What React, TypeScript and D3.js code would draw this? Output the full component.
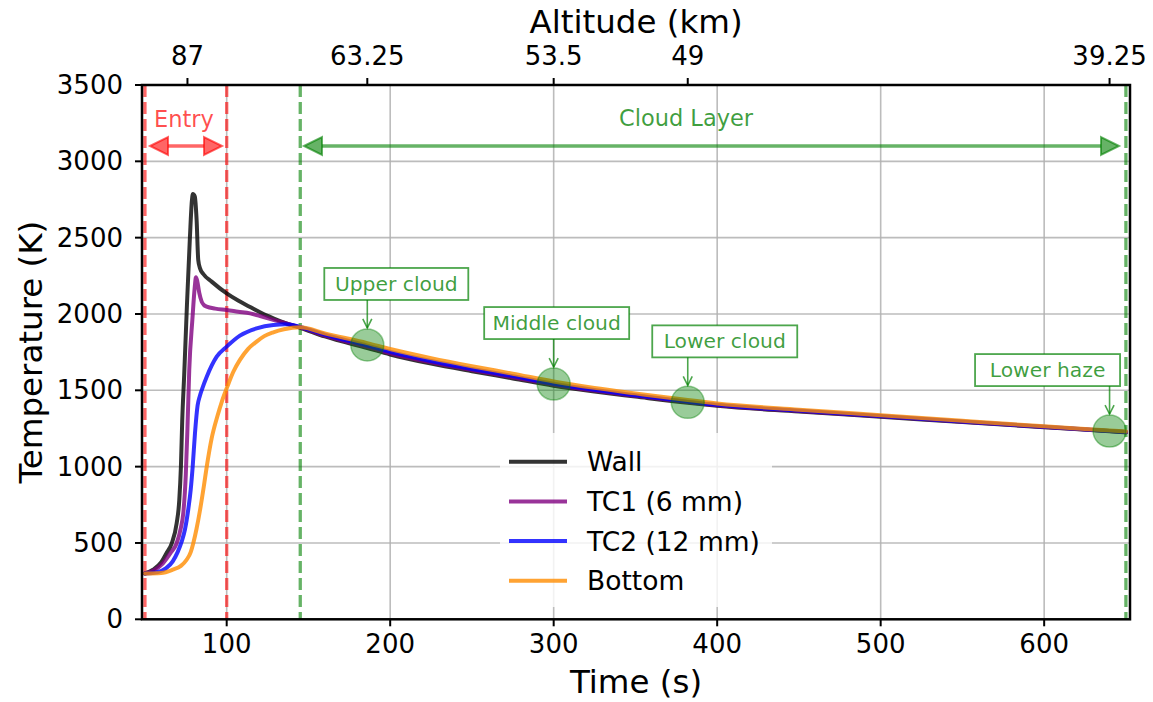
import React from 'react';
import * as d3 from 'd3';

// ---------- data ----------
const wallTime = [50, 55, 60, 63, 66.4, 69.4, 71, 72, 72.8, 74, 75.7, 77.5, 78.7, 79.3, 80.5, 81.6, 82.6, 83.7, 85.7, 90.8, 100, 107, 114, 121, 128.5, 136, 145, 160, 186, 200, 225, 250, 275, 300, 325, 350, 382, 400, 450, 500, 550, 600, 640, 650];
const wallTemp = [300, 325, 375, 430, 498, 629, 780, 1000, 1300, 1600, 2062, 2500, 2740, 2786, 2770, 2616, 2354, 2299, 2262, 2212, 2135, 2088, 2048, 2008, 1972, 1940, 1910, 1853, 1777, 1735, 1675, 1625, 1578, 1530, 1492, 1459, 1418, 1398, 1361, 1327, 1292, 1258, 1232, 1225];

const tc1Time = [50, 55, 61, 66, 69.4, 72, 73.5, 75, 76, 77.1, 79, 80.5, 81.2, 82, 83.2, 84.7, 86, 87.8, 93, 100, 107, 114.3, 121, 128.5, 136, 145, 160, 186, 200, 225, 250, 275, 300, 325, 350, 382, 400, 450, 500, 550, 600, 640, 650];
const tc1Temp = [300, 318, 367, 440, 498, 600, 700, 950, 1250, 1633, 1961, 2180, 2240, 2215, 2140, 2081, 2060, 2048, 2035, 2026, 2015, 2004, 1985, 1961, 1940, 1912, 1859, 1785, 1743, 1683, 1633, 1586, 1537, 1498, 1464, 1423, 1402, 1364, 1330, 1294, 1260, 1233, 1226];

const tc2Time = [50, 58, 63, 67, 70, 72.5, 74.5, 76.5, 78, 79.2, 80.6, 82.2, 83.5, 85, 87.8, 93.9, 100, 108.1, 118.3, 128.5, 136, 145, 160, 186, 200, 225, 250, 275, 300, 325, 350, 382, 400, 450, 500, 550, 600, 640, 650];
const tc2Temp = [300, 310, 335, 380, 440, 510, 590, 720, 850, 1000, 1218, 1400, 1460, 1510, 1589, 1720, 1786, 1858, 1906, 1928, 1932, 1915, 1865, 1793, 1752, 1692, 1640, 1593, 1543, 1503, 1468, 1426, 1405, 1367, 1332, 1296, 1261, 1234, 1227];

const bottomTime = [50, 60, 67, 72, 75.5, 78, 79.6, 81.5, 83.7, 86, 87.8, 90.8, 94.3, 97, 100.4, 104, 108.1, 113, 118.3, 123, 128.5, 135, 145, 160, 186, 200, 225, 250, 275, 300, 325, 350, 382, 400, 450, 500, 550, 600, 640, 650];
const bottomTemp = [300, 303, 325, 350, 390, 440, 500, 590, 716, 870, 1000, 1185, 1330, 1425, 1524, 1620, 1699, 1770, 1819, 1855, 1880, 1900, 1913, 1873, 1809, 1771, 1711, 1658, 1609, 1558, 1516, 1480, 1436, 1414, 1373, 1337, 1300, 1264, 1237, 1230];

const seriesNames = ['Wall', 'TC1 (6 mm)', 'TC2 (12 mm)', 'Bottom'];
const seriesColors = ['black', 'purple', 'blue', 'darkorange'];

const xTicks = [100, 200, 300, 400, 500, 600];
const yTicks = [0, 500, 1000, 1500, 2000, 2500, 3000, 3500];

const altTickTime = [76, 186, 300, 382, 640];
const altTickLabel = ['87', '63.25', '53.5', '49', '39.25'];

const markerLabel = ['Upper cloud', 'Middle cloud', 'Lower cloud', 'Lower haze'];
const markerTime = [186, 300, 382, 640];
const markerTemp = [1797, 1541, 1421, 1233];

const entryBounds = [50, 100];
const cloudBounds = [145, 650];

// ---------- layout ----------
const W = 1153;
const H = 702;
const L = 142, R = 1130, T = 85, B = 619.3;
const FONT = 'DejaVu Sans, sans-serif';
const boxDx = [29, 3, 37, -62];
const boxDy = -61;
const boxW = [144, 145, 145, 145];
const TICK_FS = 26;
const LABEL_FS = 32.5;

export default function App() {
  const x = d3.scaleLinear().domain([48.2, 652.5]).range([L, R]);
  const y = d3.scaleLinear().domain([0, 3500]).range([B, T]);

  const line = d3
    .line<[number, number]>()
    .x((d) => x(d[0]))
    .y((d) => y(d[1]))
    .curve(d3.curveMonotoneX);

  const series = [
    [wallTime, wallTemp],
    [tc1Time, tc1Temp],
    [tc2Time, tc2Temp],
    [bottomTime, bottomTemp],
  ].map(([ts, vs]) => ts.map((t, i) => [t, vs[i]] as [number, number]));

  const dblArrow = (x1: number, x2: number, yy: number, color: string, op: number, key: string) => {
    const hl = 18, hw = 9;
    return (
      <g key={key}>
        <line x1={x1 + hl} x2={x2 - hl} y1={yy} y2={yy} stroke={color} strokeOpacity={op} strokeWidth={3.3} />
        <path d={`M${x1},${yy} L${x1 + hl},${yy - hw} L${x1 + hl},${yy + hw} Z`} fill={color} fillOpacity={op} stroke={color} strokeOpacity={op} strokeWidth={2} strokeLinejoin="miter" />
        <path d={`M${x2},${yy} L${x2 - hl},${yy - hw} L${x2 - hl},${yy + hw} Z`} fill={color} fillOpacity={op} stroke={color} strokeOpacity={op} strokeWidth={2} strokeLinejoin="miter" />
      </g>
    );
  };

  return (
    <svg width={W} height={H} style={{ position: 'absolute', left: 0, top: 0, background: 'white' }} fontFamily={FONT}>
      <rect x={0} y={0} width={W} height={H} fill="white" />
      {/* grid */}
      {xTicks.map((t) => (
        <line key={'gx' + t} x1={x(t)} x2={x(t)} y1={T} y2={B} stroke="#b0b0b0" strokeOpacity={0.85} strokeWidth={1.6} />
      ))}
      {yTicks.map((v) => (
        <line key={'gy' + v} x1={L} x2={R} y1={y(v)} y2={y(v)} stroke="#b0b0b0" strokeOpacity={0.85} strokeWidth={1.6} />
      ))}

      {/* region dashed lines */}
      {entryBounds.map((t) => (
        <line key={'eb' + t} x1={x(t)} x2={x(t)} y1={T} y2={B} stroke="red" strokeOpacity={0.6} strokeWidth={3.3} strokeDasharray="12,5" />
      ))}
      {cloudBounds.map((t) => (
        <line key={'cb' + t} x1={x(t)} x2={x(t)} y1={T} y2={B} stroke="green" strokeOpacity={0.6} strokeWidth={3.3} strokeDasharray="12,5" />
      ))}

      {/* region arrows & labels */}
      {dblArrow(150, 222, 146, 'red', 0.6, 'entryArrow')}
      <text x={184} y={119} fill="red" fillOpacity={0.7} fontSize={22.5} textAnchor="middle" dominantBaseline="central">Entry</text>
      {dblArrow(304, 1119, 146, 'green', 0.6, 'cloudArrow')}
      <text x={686} y={118} fill="green" fillOpacity={0.75} fontSize={22.5} textAnchor="middle" dominantBaseline="central">Cloud Layer</text>

      {/* curves */}
      {series.map((pts, i) => (
        <path key={'s' + i} d={line(pts) || ''} fill="none" stroke={seriesColors[i]} strokeOpacity={0.8} strokeWidth={4} strokeLinejoin="round" strokeLinecap="round" />
      ))}

      {/* markers */}
      {markerTime.map((t, i) => (
        <ellipse key={'m' + i} cx={x(t)} cy={y(markerTemp[i])} rx={16.5} ry={16} fill="green" fillOpacity={0.4} stroke="green" strokeOpacity={0.4} strokeWidth={1.5} />
      ))}

      {/* annotations */}
      {markerTime.map((t, i) => {
        const px = x(t);
        const py = y(markerTemp[i]);
        const cx = px + boxDx[i];
        const cy = py + boxDy;
        const bh = 32;
        const y0 = cy + bh / 2;
        const y1 = py - 17;
        return (
          <g key={'a' + i}>
            <rect x={cx - boxW[i] / 2} y={cy - bh / 2} width={boxW[i]} height={bh} fill="white" stroke="green" strokeOpacity={0.7} strokeWidth={1.8} />
            <text x={cx} y={cy} fill="green" fillOpacity={0.75} fontSize={20.3} textAnchor="middle" dominantBaseline="central">{markerLabel[i]}</text>
            <line x1={px} x2={px} y1={y0} y2={y1} stroke="green" strokeOpacity={0.7} strokeWidth={1.6} />
            <path d={`M${px - 4.5},${y1 - 9} L${px},${y1} L${px + 4.5},${y1 - 9}`} fill="none" stroke="green" strokeOpacity={0.7} strokeWidth={1.6} />
          </g>
        );
      })}

      {/* legend */}
      <rect x={500} y={433} width={272} height={174} rx={4} fill="white" fillOpacity={0.8} />
      {seriesNames.map((n, i) => {
        const ly = 461.7 + i * 39.7;
        return (
          <g key={'l' + i}>
            <line x1={509} x2={567} y1={ly} y2={ly} stroke={seriesColors[i]} strokeOpacity={0.8} strokeWidth={4} />
            <text x={587} y={ly} fontSize={26.5} fill="black" dominantBaseline="central">{n}</text>
          </g>
        );
      })}

      {/* spines */}
      <rect x={L} y={T} width={R - L} height={B - T} fill="none" stroke="black" strokeWidth={2.5} />

      {/* bottom axis */}
      {xTicks.map((t) => (
        <g key={'xt' + t}>
          <line x1={x(t)} x2={x(t)} y1={B} y2={B + 7} stroke="black" strokeWidth={2} />
          <text x={x(t)} y={644} fontSize={TICK_FS} textAnchor="middle" dominantBaseline="central">{t}</text>
        </g>
      ))}
      <text x={(L + R) / 2} y={682} fontSize={LABEL_FS} textAnchor="middle" dominantBaseline="central">Time (s)</text>

      {/* left axis */}
      {yTicks.map((v) => (
        <g key={'yt' + v}>
          <line x1={L - 7} x2={L} y1={y(v)} y2={y(v)} stroke="black" strokeWidth={2} />
          <text x={123} y={y(v)} fontSize={TICK_FS} textAnchor="end" dominantBaseline="central">{v}</text>
        </g>
      ))}
      <text transform={`translate(31,${(T + B) / 2}) rotate(-90)`} fontSize={LABEL_FS} textAnchor="middle" dominantBaseline="central">Temperature (K)</text>

      {/* top axis */}
      {altTickTime.map((t, i) => (
        <g key={'at' + i}>
          <line x1={x(t)} x2={x(t)} y1={T - 7} y2={T} stroke="black" strokeWidth={2} />
          <text x={x(t)} y={56} fontSize={TICK_FS} textAnchor="middle" dominantBaseline="central">{altTickLabel[i]}</text>
        </g>
      ))}
      <text x={(L + R) / 2} y={22} fontSize={LABEL_FS} textAnchor="middle" dominantBaseline="central">Altitude (km)</text>
    </svg>
  );
}
